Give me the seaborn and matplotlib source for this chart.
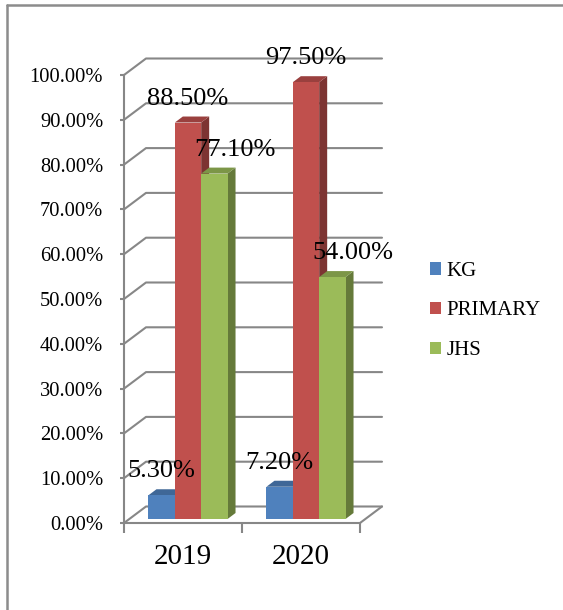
import numpy as np
import pandas as pd
import matplotlib
matplotlib.use("Agg")
import matplotlib.pyplot as plt
import matplotlib.colors as mcolors
from matplotlib.lines import Line2D
from matplotlib.patches import Polygon
from matplotlib.transforms import IdentityTransform
from matplotlib.ticker import StrMethodFormatter
import seaborn as sns

#%% data
years = ["2019", "2020"]
levels = ["KG", "PRIMARY", "JHS"]
kg = [5.3, 7.2]
primary = [88.5, 97.5]
jhs = [77.1, 54.0]
colors = ["#4F81BD", "#C0504D", "#9BBB59"]
yticks = np.arange(0, 101, 10)

df = pd.DataFrame({
    "year": years * len(levels),
    "level": np.repeat(levels, len(years)),
    "value": kg + primary + jhs,
})

#%% setup
W, H = 563, 610
sns.set_style("white")
plt.rcParams["font.family"] = ["Liberation Serif", "DejaVu Serif"]
plt.rcParams["text.color"] = "black"
plt.rcParams["xtick.labelcolor"] = "black"
plt.rcParams["ytick.labelcolor"] = "black"
grid_col = "#878787"
depth_wall = (22, 16.5)   # front plane -> back wall, pixels
depth_bar = (8, 6)        # bar front face -> bar back face, pixels

fig = plt.figure(figsize=(W / 100, H / 100), dpi=100)
ax_front = fig.add_axes([124 / W, 87 / H, 236 / W, 448 / H])
ax = fig.add_axes([129 / W, 91 / H, 236 / W, 448 / H])

sns.barplot(data=df, x="year", y="value", hue="level", hue_order=levels,
            palette=colors, saturation=1, width=0.67, linewidth=0, ax=ax)
ax.set_xlim(-0.5, 1.5)
ax.set_ylim(0, 100)

#%% front plane: axis lines, ticks and labels
ax_front.set_xlim(-0.5, 1.5)
ax_front.set_ylim(0, 100)
for s in ["top", "right"]:
    ax_front.spines[s].set_visible(False)
for s in ["left", "bottom"]:
    ax_front.spines[s].set_color(grid_col)
    ax_front.spines[s].set_linewidth(1.5)
ax_front.set_yticks(yticks)
ax_front.yaxis.set_major_formatter(StrMethodFormatter("{x:.2f}%"))
ax_front.tick_params(axis="y", left=True, length=3, width=1.5, color=grid_col,
                     labelsize=14.8, pad=12, direction="out", labelcolor="black")
ax_front.set_xticks([-0.5, 0.5, 1.5])
ax_front.set_xticklabels([])
ax_front.set_xticks([0, 1], minor=True)
ax_front.set_xticklabels(years, minor=True)
ax_front.tick_params(axis="x", which="major", bottom=True, length=7, width=1.5,
                     color=grid_col, direction="out")
ax_front.tick_params(axis="x", which="minor", bottom=True, length=0,
                     labelsize=21, pad=15, labelcolor="black")

# back wall gridlines + floor
for v in yticks:
    fx, fy = ax_front.transData.transform((-0.5, v))
    ex, ey = ax_front.transData.transform((1.5, v))
    ax_front.add_line(Line2D([fx, fx + depth_wall[0], ex + depth_wall[0]],
                             [fy, fy + depth_wall[1], ey + depth_wall[1]],
                             transform=IdentityTransform(), color=grid_col,
                             lw=1.5, clip_on=False))
ex, ey = ax_front.transData.transform((1.5, 0))
ax_front.add_line(Line2D([ex, ex + depth_wall[0]], [ey, ey + depth_wall[1]],
                         transform=IdentityTransform(), color=grid_col,
                         lw=1.5, clip_on=False))

#%% 3d sides and tops of bars, plus labels
dx, dy = depth_bar
for cont, col, lvl, vals in zip(ax.containers, colors, levels, [kg, primary, jhs]):
    rgb = np.array(mcolors.to_rgb(col))
    for rect, v in zip(cont, vals):
        x0, y0 = ax.transData.transform((rect.get_x(), 0))
        x1, y1 = ax.transData.transform((rect.get_x() + rect.get_width(), rect.get_height()))
        side = [(x1, y0), (x1, y1), (x1 + dx, y1 + dy), (x1 + dx, y0 + dy)]
        top = [(x0, y1), (x1, y1), (x1 + dx, y1 + dy), (x0 + dx, y1 + dy)]
        ax.add_patch(Polygon(side, closed=True, transform=IdentityTransform(),
                             facecolor=rgb * 0.65, edgecolor="none", zorder=0.8, clip_on=False))
        ax.add_patch(Polygon(top, closed=True, transform=IdentityTransform(),
                             facecolor=rgb * 0.8, edgecolor="none", zorder=0.8, clip_on=False))
        ax.annotate(f"{v:.2f}%", (rect.get_x() + rect.get_width() / 2, v),
                    xytext=(21 if lvl == "JHS" else 0, 24), textcoords="offset pixels",
                    ha="center", va="center", fontsize=19, color="black",
                    annotation_clip=False)

handles, labels = ax.get_legend_handles_labels()
ax.legend(handles, labels, loc="center left", bbox_to_anchor=(430 / W, 1 - 311 / H),
          bbox_transform=fig.transFigure, frameon=False, fontsize=15,
          handlelength=0.55, handleheight=0.55, handletextpad=0.25,
          labelspacing=1.0, borderpad=0, borderaxespad=0, labelcolor="black")
ax.axis("off")

# outer frame (only left and top edges show)
fig.add_artist(Line2D([6.5 / W, 6.5 / W], [0, 1 - 4.5 / H], transform=fig.transFigure,
                      color="#8c8c8c", lw=1.8))
fig.add_artist(Line2D([6.5 / W, 1], [1 - 4.5 / H, 1 - 4.5 / H], transform=fig.transFigure,
                      color="#8c8c8c", lw=1.8))

fig.savefig("out.png", dpi=100)
